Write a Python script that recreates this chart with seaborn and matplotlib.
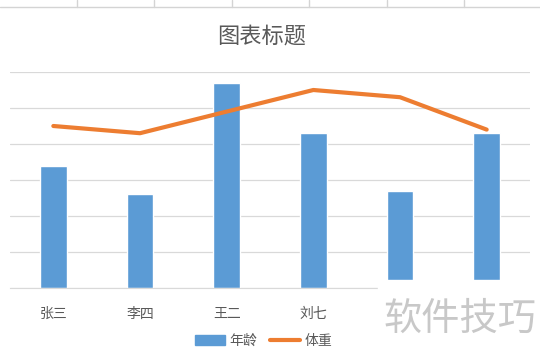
import numpy as np
import pandas as pd
import seaborn as sns
import matplotlib.pyplot as plt
from matplotlib.patches import Rectangle
from matplotlib.lines import Line2D

# chart data
names = ['张三', '李四', '王二', '刘七', '赵六', '孙五']
ages = [34, 26, 57, 43, 27, 43]
weights = [45, 43, 49, 55, 53, 44]
title = '图表标题'

df = pd.DataFrame({'name': names, 'age': ages, 'weight': weights})

sns.set_style('white')
plt.rcParams['font.family'] = ['Noto Sans CJK SC', 'DejaVu Sans']

fig = plt.figure(figsize=(5.4, 3.6), dpi=100)
ax = fig.add_axes([10 / 540, 0.2, 520 / 540, 0.6])

# spreadsheet cell borders behind the chart
fig.add_artist(Line2D([0, 1], [1 - 7 / 360] * 2, color='#d4d4d4', lw=1, transform=fig.transFigure))
for px in [77, 154, 232, 309, 387, 464]:
    fig.add_artist(Line2D([px / 540] * 2, [1, 1 - 7 / 360], color='#d4d4d4', lw=1, transform=fig.transFigure))

sns.barplot(data=df, x='name', y='age', color='#5B9BD5', saturation=1, width=0.31, ax=ax, zorder=2)
sns.lineplot(x=np.arange(len(names)), y=weights, sort=False, color='#ED7D31', lw=3, ax=ax, zorder=3)

ax.set_ylim(0, 60)
ax.set_xlim(-0.5, len(names) - 0.5)
ax.set_yticks(np.arange(0, 61, 10))
ax.yaxis.grid(True, color='#d9d9d9', lw=0.9)
ax.set_axisbelow(True)
ax.tick_params(axis='y', left=False, labelleft=False)
ax.tick_params(axis='x', bottom=False, pad=10, labelsize=10, labelcolor='#595959')
ax.set_xlabel('')
ax.set_ylabel('')
for s in ['left', 'right', 'top']:
    ax.spines[s].set_visible(False)
ax.spines['bottom'].set_color('#d9d9d9')
# last two labels sit under the watermark box
for lbl in ax.get_xticklabels()[4:]:
    lbl.set_visible(False)

fig.text(262 / 540, 1 - 36 / 360, title, ha='center', va='center', fontsize=16, color='#595959')

handles = [Rectangle((0, 0), 1, 1, color='#5B9BD5'),
           Line2D([0], [0], color='#ED7D31', lw=3)]
fig.legend(handles, ['年龄', '体重'], loc='center', bbox_to_anchor=(0.488, 1 - 341 / 360),
           ncol=2, frameon=False, fontsize=10, labelcolor='#595959',
           handlelength=2.2, handletextpad=0.3, columnspacing=0.9)

# watermark box
fig.add_artist(Rectangle((378 / 540, 0), 162 / 540, 80 / 360, color='white',
                         transform=fig.transFigure, zorder=10))
fig.text(460 / 540, 1 - 319 / 360, '软件技巧', ha='center', va='center', fontsize=27.5,
         color='#c8c8c8', zorder=11)

fig.savefig('out.png', dpi=100)
